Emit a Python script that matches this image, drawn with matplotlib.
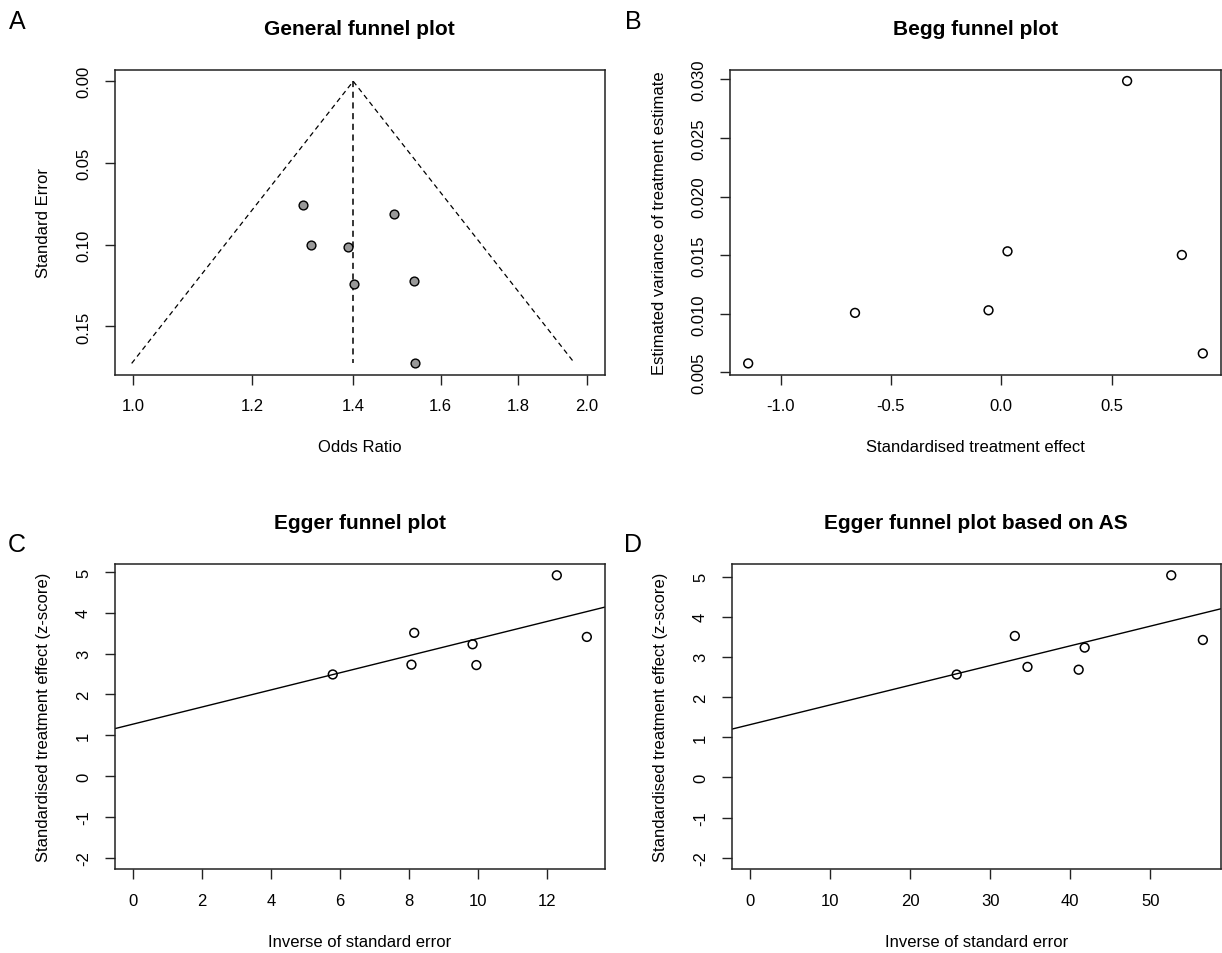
import numpy as np
import matplotlib
matplotlib.use('Agg')
import matplotlib.pyplot as plt

plt.rcParams['font.family'] = ['Liberation Sans', 'DejaVu Sans']
plt.rcParams['axes.unicode_minus'] = False

# Panel A: general funnel plot (odds ratio vs standard error)
odds_ratio = [1.296, 1.313, 1.389, 1.401, 1.491, 1.536, 1.538]
std_error = [0.0756, 0.1001, 0.1016, 0.1238, 0.0812, 0.1224, 0.1726]
pooled_or = 1.4
or_ticks = [1.0, 1.2, 1.4, 1.6, 1.8, 2.0]

# Panel B: Begg funnel plot
begg_effect = [-1.147, -0.663, -0.058, 0.028, 0.570, 0.818, 0.913]
begg_var = [0.00577, 0.01008, 0.0103, 0.01533, 0.02986, 0.01502, 0.00662]

# Panel C: Egger funnel plot
egger_prec = [5.79, 8.07, 8.15, 9.84, 9.95, 12.28, 13.15]
egger_z = [2.49, 2.73, 3.51, 3.23, 2.72, 4.92, 3.41]

# Panel D: Egger funnel plot based on AS
as_prec = [25.83, 33.09, 34.67, 41.06, 41.81, 52.62, 56.57]
as_z = [2.56, 3.52, 2.75, 2.68, 3.23, 5.03, 3.42]

W, H = 1222, 954
fig = plt.figure(figsize=(W / 100, H / 100), dpi=100)


def px_axes(x0, y0, x1, y1):
    return fig.add_axes([x0 / W, 1 - y1 / H, (x1 - x0) / W, (y1 - y0) / H])


def style(ax, title, xlabel, ylabel):
    for s in ax.spines.values():
        s.set_linewidth(1.1)
        s.set_color('#222222')
    ax.tick_params(direction='out', length=7, width=1.0, pad=10,
                   labelsize=12, color='#222222')
    ax.minorticks_off()
    for lab in ax.get_yticklabels():
        lab.set_rotation(90)
        lab.set_va('center')
    ax.text(0.5, 1.135, title, transform=ax.transAxes, ha='center',
            va='center', fontsize=15, fontweight='bold')
    ax.set_xlabel(xlabel, fontsize=12)
    ax.set_ylabel(ylabel, fontsize=12)
    ax.xaxis.set_label_coords(0.5, -0.212)
    ax.yaxis.set_label_coords(-0.13, 0.5)


def rlim(lo, hi):
    d = (hi - lo) * 0.04
    return lo - d, hi + d


# ---- A
axA = px_axes(114.7, 71, 605, 375.7)
se_max = max(std_error)
lo = np.exp(np.log(pooled_or) - 1.96 * se_max)
hi = np.exp(np.log(pooled_or) + 1.96 * se_max)
axA.plot([lo, pooled_or, hi], [se_max, 0, se_max], '--', color='black',
         lw=0.9, dashes=(4, 3))
axA.plot([pooled_or, pooled_or], [0, se_max], '--', color='black',
         lw=1.1, dashes=(4, 3))
axA.scatter(odds_ratio, std_error, s=40, facecolor='#999999',
            edgecolor='black', linewidth=1.0, zorder=3)
axA.set_xscale('log')
l0, l1 = rlim(np.log(or_ticks[0]), np.log(or_ticks[-1]))
axA.set_xlim(np.exp(l0), np.exp(l1))
y0, y1 = rlim(0, se_max)
axA.set_ylim(y1, y0)
axA.set_xticks(or_ticks)
axA.set_xticklabels(['%.1f' % t for t in or_ticks])
axA.set_yticks([0, 0.05, 0.10, 0.15])
axA.set_yticklabels(['0.00', '0.05', '0.10', '0.15'])
style(axA, 'General funnel plot', 'Odds Ratio', 'Standard Error')

# ---- B
axB = px_axes(730, 70.7, 1221, 375.7)
axB.scatter(begg_effect, begg_var, s=40, facecolor='none',
            edgecolor='black', linewidth=1.1)
axB.set_xlim(*rlim(min(begg_effect), max(begg_effect)))
axB.set_ylim(*rlim(min(begg_var), max(begg_var)))
axB.set_xticks([-1.0, -0.5, 0.0, 0.5])
axB.set_xticklabels(['-1.0', '-0.5', '0.0', '0.5'])
bt = [0.005, 0.010, 0.015, 0.020, 0.025, 0.030]
axB.set_yticks(bt)
axB.set_yticklabels(['%.3f' % t for t in bt])
style(axB, 'Begg funnel plot', 'Standardised treatment effect',
      'Estimated variance of treatment estimate')
axB.yaxis.set_label_coords(-0.128, 0.5)


def egger(ax, prec, z, xt, title):
    slope, icpt = np.polyfit(prec, z, 1)
    ax.axline((0, icpt), slope=slope, color='black', lw=1.0)
    ax.scatter(prec, z, s=40, facecolor='none', edgecolor='black',
               linewidth=1.1, zorder=3)
    ax.set_xlim(*rlim(0, max(prec)))
    ax.set_ylim(*rlim(-2, max(z)))
    ax.set_xticks(xt)
    ax.set_xticklabels([str(t) for t in xt])
    ax.set_yticks(range(-2, 6))
    ax.set_yticklabels([str(t) for t in range(-2, 6)])
    style(ax, title, 'Inverse of standard error',
          'Standardised treatment effect (z-score)')


axC = px_axes(114.7, 565, 605, 870)
egger(axC, egger_prec, egger_z, list(range(0, 14, 2)), 'Egger funnel plot')

axD = px_axes(731.7, 565, 1221, 870)
egger(axD, as_prec, as_z, list(range(0, 60, 10)),
      'Egger funnel plot based on AS')

for letter, x, y in [('A', 17, 22), ('B', 633, 22), ('C', 17, 545), ('D', 633, 545)]:
    fig.text(x / W, 1 - y / H, letter, fontsize=18, ha='center', va='center')

fig.savefig('out.png', dpi=100)
